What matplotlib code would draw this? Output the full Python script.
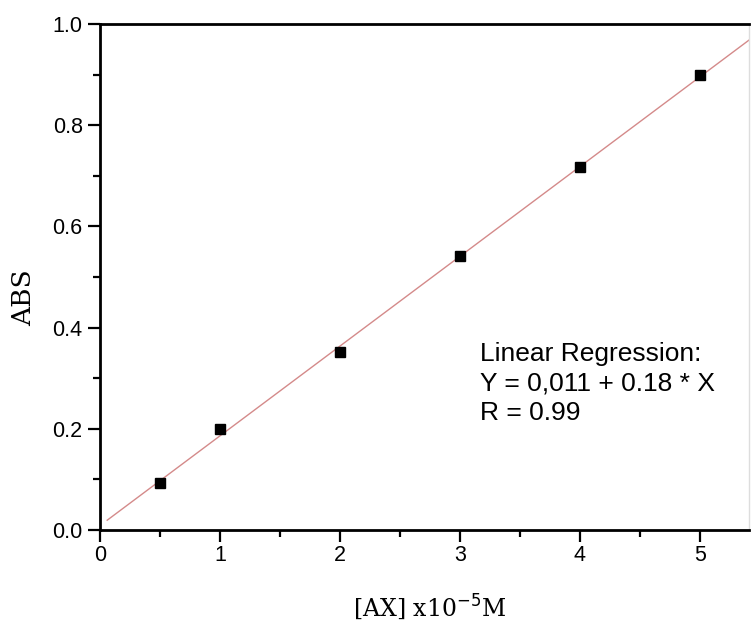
import numpy as np
import matplotlib.pyplot as plt
from matplotlib.ticker import MultipleLocator

# concentration [AX] (x10^-5 M) and absorbance
conc = [0.5, 1.0, 2.0, 3.0, 4.0, 5.0]
absorb = [0.093, 0.200, 0.352, 0.541, 0.717, 0.899]
fit_text = ["Linear Regression:", "Y = 0,011 + 0.18 * X", "R = 0.99"]

fig = plt.figure(figsize=(7.51, 6.21), dpi=100)
ax = fig.add_axes([100 / 751, 91 / 621, 649 / 751, 506 / 621])

slope, intercept = np.polyfit(conc, absorb, 1)
xs = np.array([0.06, 5.6])
ax.plot(xs, intercept + slope * xs, color="#d48a8a", lw=1.0, zorder=2)
ax.plot(conc, absorb, "s", color="black", ms=7.5, zorder=3)

ax.set_xlim(0, 649 / 120)
ax.set_ylim(0, 1.0)
ax.xaxis.set_major_locator(MultipleLocator(1))
ax.xaxis.set_minor_locator(MultipleLocator(0.5))
ax.yaxis.set_major_locator(MultipleLocator(0.2))
ax.yaxis.set_minor_locator(MultipleLocator(0.1))
ax.xaxis.set_major_formatter(plt.FuncFormatter(lambda v, p: f"{v:.0f}"))
ax.yaxis.set_major_formatter(plt.FuncFormatter(lambda v, p: f"{v:.1f}"))

ax.tick_params(which="both", direction="out", width=1.6, labelsize=15.5,
               top=False, right=False)
ax.tick_params(axis="x", pad=2)
ax.tick_params(axis="y", pad=4)
ax.tick_params(which="major", length=8.5)
ax.tick_params(which="minor", length=5)
for lab in ax.get_xticklabels() + ax.get_yticklabels():
    lab.set_family("Liberation Sans")

for side in ["left", "bottom", "top"]:
    ax.spines[side].set_linewidth(2)
ax.spines["right"].set_color("#dddddd")
ax.spines["right"].set_linewidth(1)

ax.set_xlabel("[AX] x10$^{-5}$M", family="DejaVu Serif", fontsize=17, va="center")
ax.set_ylabel("ABS", family="DejaVu Serif", fontsize=19, va="center")
ax.xaxis.set_label_coords(0.508, -0.152)
ax.yaxis.set_label_coords(-0.117, 0.46)

ax.text(3.17, 0.372, "\n".join(fit_text), family="Liberation Sans", fontsize=19,
        va="top", ha="left", linespacing=1.3)

fig.savefig("out.png", dpi=100)
